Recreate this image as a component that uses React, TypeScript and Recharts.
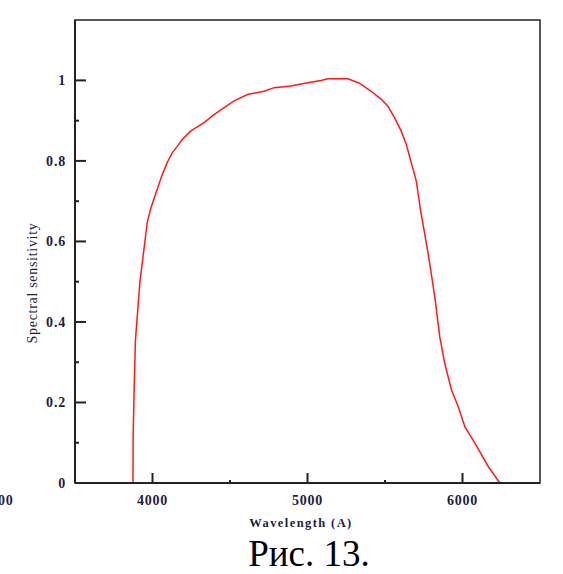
import React from 'react'
import {LineChart, Line, XAxis, YAxis, ReferenceArea, Label} from 'recharts'

// wavelength in angstrom
const wavelength = [
  3874, 3875, 3882, 3890, 3903, 3919, 3935, 3948, 3966, 3987, 4008, 4030, 4063, 4095, 4127,
  4160, 4192, 4246, 4332, 4397, 4526, 4613, 4720, 4785, 4893, 5001, 5087, 5131, 5260, 5335,
  5411, 5476, 5519, 5562, 5605, 5637, 5670, 5702, 5728, 5778, 5821, 5853, 5885, 5929, 5972,
  6015, 6080, 6166, 6241,
]
const sensitivity = [
  0, 0.113, 0.24, 0.356, 0.42, 0.5, 0.55, 0.59, 0.647, 0.68, 0.704, 0.729, 0.766, 0.796, 0.82,
  0.836, 0.853, 0.874, 0.895, 0.915, 0.949, 0.965, 0.973, 0.982, 0.986, 0.994, 1.0, 1.004, 1.004, 0.993,
  0.973, 0.953, 0.936, 0.907, 0.874, 0.841, 0.795, 0.75, 0.68, 0.571, 0.463, 0.364, 0.298, 0.231, 0.19,
  0.14, 0.099, 0.041, 0,
]

const xTicks = [4000, 4500, 5000, 5500, 6000]
const yTicks = [0, 0.1, 0.2, 0.3, 0.4, 0.5, 0.6, 0.7, 0.8, 0.9, 1]

const xLabel = 'Wavelength (A)'
const yLabel = 'Spectral sensitivity'
const caption = 'Рис. 13.'

const data = wavelength.map((w, i) => ({w, s: sensitivity[i]}))

const serif = '"Liberation Serif", "Times New Roman", "DejaVu Serif", serif'

const tickFont = {
  style: {fontFamily: serif, fontWeight: 700, fontSize: 14, letterSpacing: 0.8},
  fill: '#1d1d3f',
}

const XTick = ({x, y, payload}: any) => {
  const major = payload.value % 1000 === 0
  return (
    <g>
      <line x1={x} x2={x} y1={y} y2={y - (major ? 10 : 3)} stroke="#222" strokeWidth={2}/>
      {major && <text x={x} y={y + 22} textAnchor="middle" {...tickFont}>{payload.value}</text>}
    </g>
  )
}

const YTick = ({x, y, payload}: any) => {
  const v = payload.value
  const major = Math.round(v * 10) % 2 === 0
  const txt = v === 0 ? '0' : v === 1 ? '1' : v.toFixed(1)
  return (
    <g>
      <line x1={x} x2={x + (major ? 11 : 4)} y1={y} y2={y} stroke="#222" strokeWidth={2}/>
      {major && <text x={x - 9} y={y + 5} textAnchor="end" {...tickFont}>{txt}</text>}
    </g>
  )
}

const App = () => {
  return (
    <div style={{position: 'absolute', left: 0, top: 0, width: 563, height: 574, background: '#fff'}}>
      <LineChart width={563} height={574} data={data} margin={{top: 20, right: 23, left: 15, bottom: 61}}>
        <XAxis
          dataKey="w"
          type="number"
          domain={[3500, 6500]}
          ticks={xTicks}
          allowDataOverflow
          height={30}
          tickSize={0}
          tickMargin={0}
          tickLine={false}
          tick={<XTick/>}
          axisLine={{stroke: '#222', strokeWidth: 2}}
        >
          <Label
            content={() => (
              <text x={301} y={527} textAnchor="middle" fill="#1d1d3f"
                style={{fontFamily: serif, fontWeight: 700, fontSize: 12.5, letterSpacing: 1.4}}>{xLabel}</text>
            )}
          />
        </XAxis>
        <YAxis
          type="number"
          domain={[0, 1.15]}
          ticks={yTicks}
          allowDataOverflow
          width={60}
          tickSize={0}
          tickMargin={0}
          tickLine={false}
          tick={<YTick/>}
          axisLine={{stroke: '#222', strokeWidth: 2}}
        >
          <Label
            content={() => (
              <text x={37} y={283} transform="rotate(-90 37 283)" textAnchor="middle" fill="#1d1d3f"
                style={{fontFamily: serif, fontSize: 14, letterSpacing: 0.7}}>{yLabel}</text>
            )}
          />
        </YAxis>
        <ReferenceArea x1={3500} x2={6500} y1={0} y2={1.15} fill="none" stroke="#222" strokeWidth={1.5}/>
        <Line
          type="linear"
          dataKey="s"
          stroke="#ff1a1a"
          strokeWidth={1.5}
          dot={false}
          isAnimationActive={false}
        />
      </LineChart>
      <svg width={563} height={574} style={{position: 'absolute', left: 0, top: 0, pointerEvents: 'none'}}>
        <text x={-2} y={505} textAnchor="middle" {...tickFont}>3000</text>
        <text x={309} y={566} textAnchor="middle" fill="#000"
          style={{fontFamily: serif, fontSize: 37}}>{caption}</text>
      </svg>
    </div>
  )
}

export default App
